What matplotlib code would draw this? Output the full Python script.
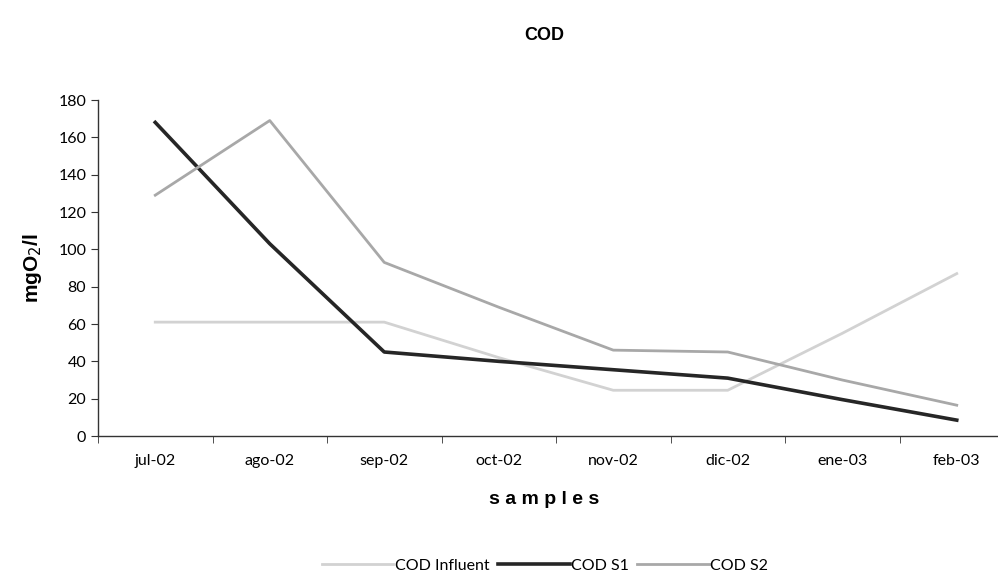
import numpy as np
import matplotlib
matplotlib.use("Agg")
import matplotlib.pyplot as plt
from matplotlib.ticker import FixedLocator

months = ["jul-02", "ago-02", "sep-02", "oct-02", "nov-02", "dic-02", "ene-03", "feb-03"]
cod_influent = [61, 61, 61, 42, 24.5, 24.5, 55, 87]
cod_s1 = [168, 103, 45, 40, 35.5, 31, 19.5, 8.5]
cod_s2 = [129, 169, 93, 69, 46, 45, 30, 16.5]

plt.rcParams['font.family'] = ['Lato', 'DejaVu Sans']

fig = plt.figure(figsize=(9.98, 5.81), dpi=100)
# right edge of the plot area runs off the picture, as in the scan
ax = fig.add_axes([98 / 998, 1 - 436 / 581, 916 / 998, 336 / 581])

x = np.arange(len(months))
ax.plot(x, cod_influent, color='#d2d2d2', lw=2.0, label='COD Influent')
ax.plot(x, cod_s1, color='#262626', lw=2.6, label='COD S1')
ax.plot(x, cod_s2, color='#a8a8a8', lw=2.0, label='COD S2')

ax.set_xlim(-0.5, len(months) - 0.5)
ax.set_ylim(0, 180)
ax.set_yticks(np.arange(0, 181, 20))
ax.set_xticks(x)
ax.set_xticklabels(months, fontsize=11.5)
ax.xaxis.set_minor_locator(FixedLocator(np.arange(-0.5, len(months), 1)))
ax.tick_params(axis='x', which='major', length=0, pad=13)
ax.tick_params(axis='x', which='minor', length=5, direction='out', color='#333333')
ax.tick_params(axis='y', length=5, direction='out', labelsize=11.5, color='#333333')

for s in ['top', 'right']:
    ax.spines[s].set_visible(False)
for s in ['left', 'bottom']:
    ax.spines[s].set_color('#333333')
    ax.spines[s].set_linewidth(1.0)

ax.set_ylabel('mgO$_2$/l', fontsize=15, fontweight='bold', family='Liberation Sans', labelpad=10)
fig.text(544 / 998, 1 - 500 / 581, 's a m p l e s', ha='center', va='center',
         fontsize=14, fontweight='bold', family='Liberation Sans')
fig.text(544 / 998, 1 - 36 / 581, 'COD', ha='center', va='center',
         fontsize=13, fontweight='bold', family='Liberation Sans')

fig.legend(loc='center', bbox_to_anchor=(545 / 998, 1 - 566 / 581), ncol=3,
           frameon=False, fontsize=11.5, handlelength=4.5, handletextpad=0.1,
           columnspacing=0.5)

fig.savefig('out.png', dpi=100)
